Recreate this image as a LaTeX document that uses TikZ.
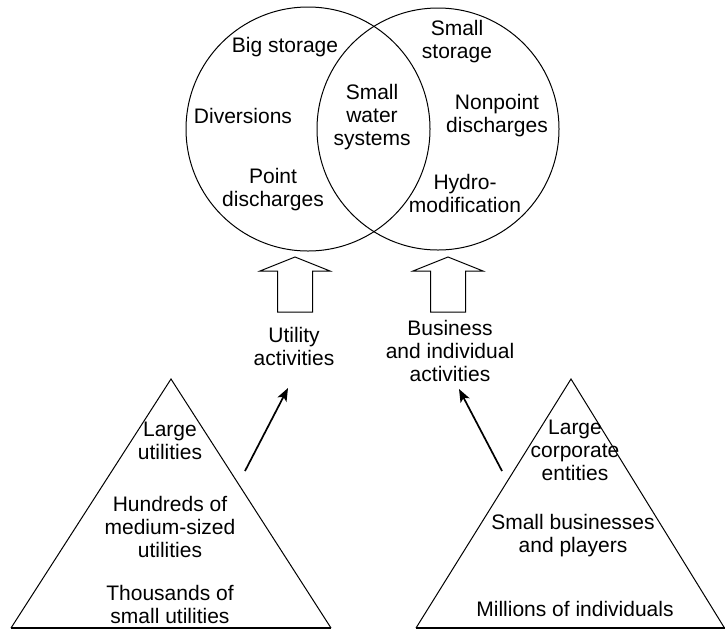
\documentclass[tikz,border=0pt]{standalone}
\usepackage{fontspec}
\setmainfont{Liberation Sans}
\usetikzlibrary{arrows.meta}

\begin{document}
\begin{tikzpicture}[x=1pt,y=-1pt,>={Stealth[length=13pt,width=10pt,inset=3pt]},line join=miter,
    lbl/.style={align=center,inner sep=0pt,font=\fontsize{21}{23}\selectfont},
    ring/.style={line width=1pt},
    tri/.style={line width=1pt},
    blockarrow/.style={line width=1pt,fill=white},
    feed/.style={->,line width=1.7pt}]
  \useasboundingbox (0,0) rectangle (725,630);
  \coordinate (UC) at (308,129);
  \coordinate (BC) at (438,129);
  \coordinate (UA) at (171,379);
  \coordinate (UL) at (11,628);
  \coordinate (UR) at (331,628);
  \coordinate (BA) at (571,379);
  \coordinate (BL) at (416,628);
  \coordinate (BR) at (724.5,628);
  \coordinate (ufoot) at (245,471);
  \coordinate (utip) at (288,388);
  \coordinate (bfoot) at (502,471);
  \coordinate (btip) at (459,389);
  \draw[ring] (UC) circle (122);
  \draw[ring] (BC) circle (121);
  \draw[tri] (UL) -- (UA) -- (UR);
  \draw[tri] (BL) -- (BA) -- (BR);
  \draw[line width=1.8pt] (UL) -- (UR);
  \draw[line width=1.8pt] (BL) -- (BR);
  \foreach \cx in {295,448}
    \draw[blockarrow] (\cx,257) -- (\cx+35,271) -- (\cx+17.5,271) -- (\cx+17.5,312)
      -- (\cx-17.5,312) -- (\cx-17.5,271) -- (\cx-35,271) -- cycle;
  \node[lbl] (bigstor) at (285,47) {Big storage};
  \node[lbl] (divers) at (243,116) {Diversions};
  \node[lbl] (pointdis) at (273,190) {Point\\discharges};
  \node[lbl] (smallws) at (372,117) {Small\\water\\systems};
  \node[lbl] (smallstor) at (457,42) {Small\\storage};
  \node[lbl] (nonpoint) at (497,116) {Nonpoint\\discharges};
  \node[lbl] (hydro) at (465,193) {Hydro-\\modification};
  \node[lbl] (utilact) at (294,346) {Utility\\activities};
  \node[lbl] (busact) at (450,351) {Business\\and individual\\activities};
  \node[lbl] (largeutil) at (170,441) {Large\\utilities};
  \node[lbl] (medutil) at (170,527) {Hundreds of\\medium-sized\\utilities};
  \node[lbl] (smallutil) at (170,604) {Thousands of\\small utilities};
  \node[lbl] (largecorp) at (575,450) {Large\\corporate\\entities};
  \node[lbl] (smallbus) at (573,536) {Small businesses\\and players};
  \node[lbl] (indiv) at (575,609) {Millions of individuals};
  \draw[feed] (ufoot) -- (utip);
  \draw[feed] (bfoot) -- (btip);
\end{tikzpicture}
\end{document}
